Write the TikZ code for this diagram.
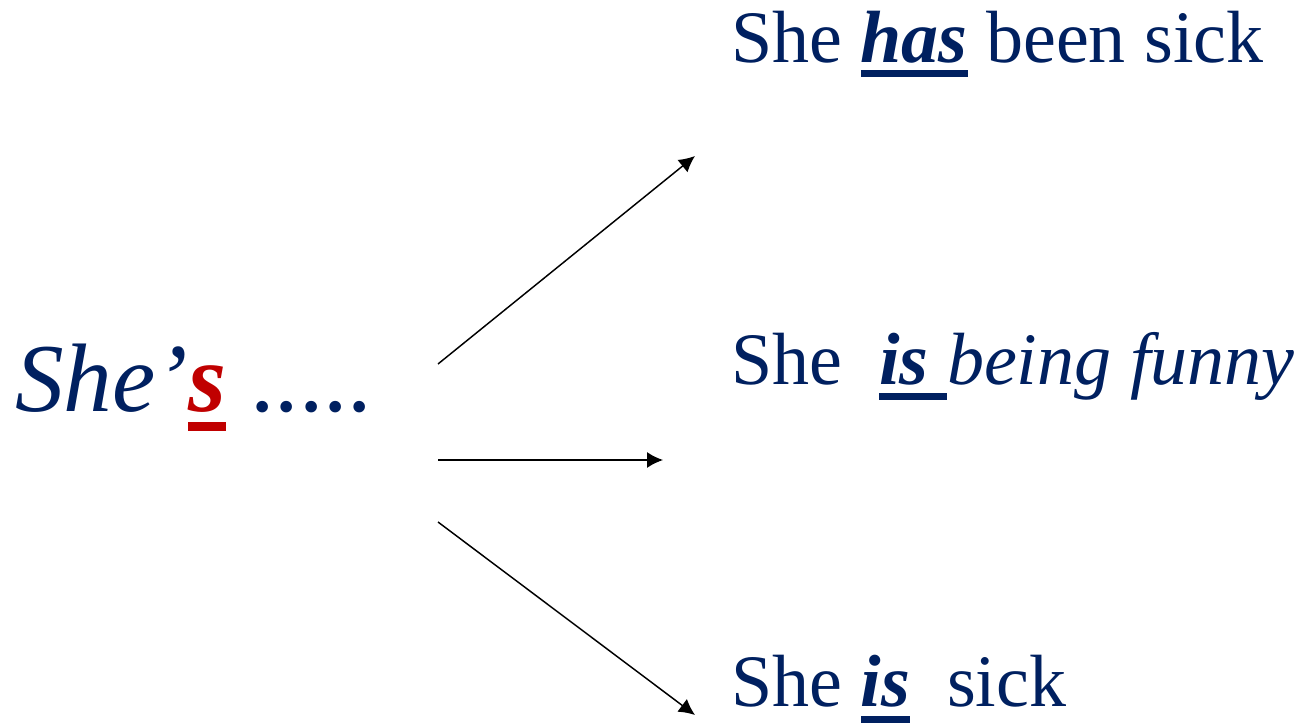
\documentclass[tikz,border=0pt]{standalone}
\usepackage{fontspec}
\setmainfont{Liberation Serif}
\usetikzlibrary{arrows.meta}
\definecolor{navy}{HTML}{002060}
\definecolor{darkred}{HTML}{C00000}
\newcommand\myul[4]{\begingroup\setbox0=\hbox{#4}\rlap{\color{#3}\rule[#1]{\wd0}{#2}}\box0\endgroup\relax}
\newcommand\nbi[1]{{\bfseries\itshape #1}}
\tikzset{
  txt/.style={anchor=base west, inner sep=0pt, text=navy, font=\fontsize{55.5pt}{55.5pt}\selectfont},
  big/.style={anchor=base west, inner sep=0pt, text=navy, font=\fontsize{73pt}{73pt}\selectfont},
  arr/.style={-{Latex[length=12pt,width=12pt]}, line width=1.1pt, black}
}
\begin{document}
\begin{tikzpicture}[x=0.75pt,y=-0.75pt]
\useasboundingbox (0,0) rectangle (1306,723);
\node[big] (src) at (15,411.7) {\itshape She’\myul{-14.25pt}{6.75pt}{darkred}{\textcolor{darkred}{\bfseries s}} \upshape .....};
\node[txt] (t1) at (731,63) {She \myul{-10.3pt}{5pt}{navy}{\nbi{has}} been sick};
\node[txt] (t2) at (731,385) {She\ \ \myul{-11.25pt}{5.5pt}{navy}{\nbi{is}\ }\itshape being funny};
\node[txt] (t3) at (731,706.7) {She \myul{-12.2pt}{5.5pt}{navy}{\nbi{is}}\ \ sick};
\coordinate (s1) at (438,364); \coordinate (e1) at (695,156);
\coordinate (s2) at (438,460); \coordinate (e2) at (663,460);
\coordinate (s3) at (438,522); \coordinate (e3) at (695,715);
\draw[arr] (s1) -- (e1);
\draw[arr] (s2) -- (e2);
\draw[arr] (s3) -- (e3);
\end{tikzpicture}
\end{document}
